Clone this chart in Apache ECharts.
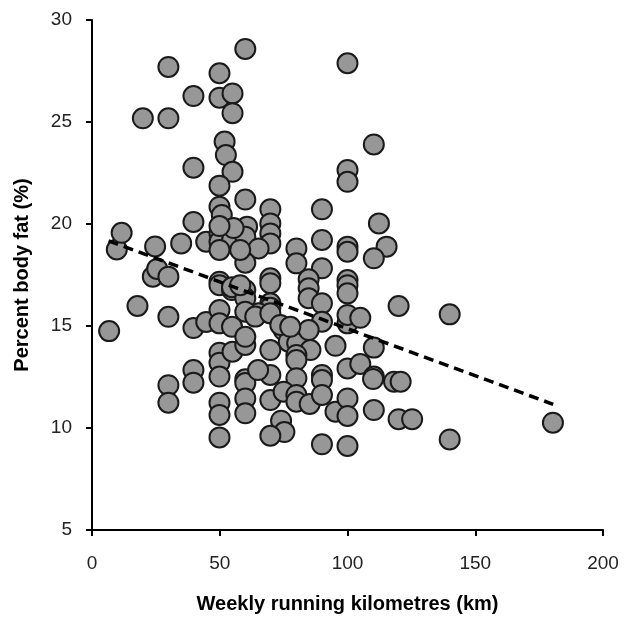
<!DOCTYPE html>
<html>
<head>
<meta charset="utf-8">
<script src="https://cdn.jsdelivr.net/npm/echarts@6/dist/echarts.min.js"></script>
<style>html,body{margin:0;padding:0;background:#fff}#c{width:628px;height:617px}</style>
</head>
<body>
<div id="c"></div>
<script>
var km = [6.7,9.7,11.6,17.8,24.7,23.8,25.5,29.9,34.9,29.9,39.7,39.7,44.7,44.7,60,29.9,49.9,39.7,49.9,55,55,19.9,29.9,51.9,52.4,55,39.7,49.9,60,100,110.3,100,100,69.8,69.8,69.8,69.8,90,112.3,80,80,90,100,100,115.3,110.3,90,84.8,84.8,84.8,100,100,100,69.8,69.8,69.8,69.8,90,120,140,90,100,100,105,75,77,80.3,84.8,85.5,95.3,110.3,69.8,80,69.8,80,80,90,90,100,105,110.3,110,118.2,120.8,69.8,75,80,80,85.2,90,95.3,100,100,110.3,120,125.3,140,74,75.3,69.8,90,100,180.4,29.9,29.9,39.7,39.7,49.9,49.9,49.9,49.9,49.9,49.9,55,60,60,60,60,60,65,49.9,50.8,54.8,60.7,49.9,49.9,54.8,60,49.9,65.2,60,49.9,49.9,54.8,54.8,60,60,65.2,60,49.9,49.9,54.8,60,55.4,58,58,63.9,69.8,73.7,77.6,49.9];
var fat = [14.75,18.75,19.57,15.98,18.9,17.42,17.8,17.42,19.05,15.45,20.1,14.9,19.13,15.2,28.58,27.7,27.39,26.27,26.19,26.4,25.43,25.18,25.18,24.04,23.38,22.56,22.76,21.88,21.2,27.88,23.9,22.65,22.07,20.72,20.03,19.54,19.05,20.72,20.03,18.8,18.07,19.22,18.89,18.64,18.89,18.32,17.83,17.29,16.85,16.36,17.25,17.0,16.6,17.34,17.1,16.11,15.9,16.11,15.98,15.57,15.21,15.13,15.54,15.4,14.8,14.23,14.15,14.8,13.82,14.03,13.94,13.82,13.58,12.6,13.33,12.44,12.6,12.35,12.92,13.14,12.52,12.4,12.27,12.27,11.37,11.78,11.62,11.29,11.18,11.62,10.8,11.45,10.59,10.88,10.43,10.43,9.44,10.36,9.8,9.62,9.2,9.12,10.26,12.1,11.24,12.84,12.22,13.69,13.2,12.52,11.24,10.64,9.54,13.74,14.07,12.39,12.2,11.45,10.72,12.84,20.85,20.44,19.7,19.87,19.54,19.13,19.22,19.38,18.73,18.8,18.1,17.17,17.0,16.76,16.9,16.76,16.36,15.62,15.7,15.78,15.13,14.96,14.47,19.8,18.73,17.0,15.46,15.62,15.05,14.96,19.9];
var trendKm = [6.5, 180.5];
var trendFat = [19.17, 11.16];
var xTicks = [0, 50, 100, 150, 200];
var yTicks = [5, 10, 15, 20, 25, 30];

var pts = km.map(function (v, i) { return [v, fat[i]]; });
var trend = trendKm.map(function (v, i) { return [v, trendFat[i]]; });
var font = 'Arial, "Liberation Sans", sans-serif';
var chart = echarts.init(document.getElementById('c'), null, {renderer: 'canvas'});
chart.setOption({
  animation: false,
  backgroundColor: '#fff',
  grid: {left: 92, right: 25, top: 20, bottom: 87, containLabel: false, outerBoundsMode: 'none'},
  xAxis: {
    type: 'value', min: xTicks[0], max: xTicks[xTicks.length - 1], interval: 50,
    name: 'Weekly running kilometres (km)', nameLocation: 'middle', nameGap: 64,
    nameTextStyle: {fontFamily: font, fontSize: 20, fontWeight: 'bold', color: '#000'},
    axisLine: {lineStyle: {color: '#000', width: 2}},
    axisTick: {show: true, length: 6, inside: false, lineStyle: {color: '#000', width: 2}},
    axisLabel: {fontFamily: font, fontSize: 19, color: '#222', margin: 24},
    splitLine: {show: false}
  },
  yAxis: {
    type: 'value', min: yTicks[0], max: yTicks[yTicks.length - 1], interval: 5,
    name: 'Percent body fat (%)', nameLocation: 'middle', nameGap: 60,
    nameTextStyle: {fontFamily: font, fontSize: 20, fontWeight: 'bold', color: '#000'},
    axisLine: {show: true, lineStyle: {color: '#000', width: 2}},
    axisTick: {show: true, length: 6, inside: false, lineStyle: {color: '#000', width: 2}},
    axisLabel: {fontFamily: font, fontSize: 19, color: '#222', margin: 20},
    splitLine: {show: false}
  },
  series: [
    {
      type: 'scatter', data: pts, symbol: 'circle', symbolSize: 20, z: 2,
      itemStyle: {color: '#979797', borderColor: '#1a1a1a', borderWidth: 2, opacity: 1}
    },
    {
      type: 'line', data: trend, symbol: 'none', z: 3,
      lineStyle: {color: '#000', width: 3.5, type: [10, 6]}
    }
  ]
});
</script>
</body>
</html>
